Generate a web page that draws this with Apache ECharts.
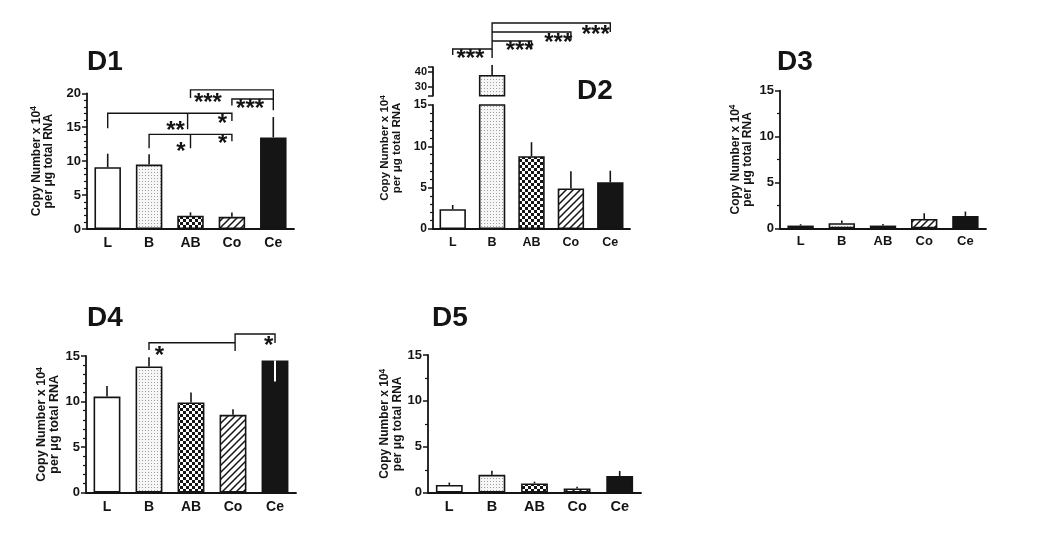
<!DOCTYPE html>
<html><head><meta charset="utf-8">
<script src="https://cdn.jsdelivr.net/npm/echarts@6/dist/echarts.min.js"></script>
<style>html,body{margin:0;padding:0;background:#fff}#c{width:1050px;height:541px}</style>
</head><body><div id="c"></div>
<script>
// ---------------- data ----------------
const categories = ['L', 'B', 'AB', 'Co', 'Ce'];

const d1Values = [9.1, 9.5, 1.95, 1.8, 13.5];
const d1ErrTop = [11.1, 11.0, 2.45, 2.45, 16.5];
const d1Ticks = [0, 5, 10, 15, 20];

const d2Values = [2.4, 37.8, 8.8, 4.9, 5.65];
const d2ErrTop = [2.9, 44.4, 10.5, 7.0, 7.05];
const d2TicksLower = [0, 5, 10, 15];
const d2TicksUpper = [30, 40];

const d3Values = [0.3, 0.55, 0.3, 1.02, 1.35];
const d3ErrTop = [0.45, 0.85, 0.47, 1.63, 1.82];
const d3Ticks = [0, 5, 10, 15];

const d4Values = [10.55, 13.85, 9.9, 8.55, 14.5];
const d4ErrTop = [11.7, 14.85, 11.0, 9.15, 12.2];
const d4Ticks = [0, 5, 10, 15];

const d5Values = [0.85, 1.95, 1.0, 0.47, 1.82];
const d5ErrTop = [1.1, 2.4, 1.2, 0.65, 2.36];
const d5Ticks = [0, 5, 10, 15];

// significance brackets: polylines in [category index, value]
const d1Brackets = [
  [[2, 19.3], [2, 20.5], [4, 20.5], [4, 17.5]],
  [[3, 18.2], [3, 19.15], [4, 19.15]],
  [[0, 14.85], [0, 17.05], [3, 17.05], [3, 15.9]],
  [[1.93, 17.05], [1.93, 14.7]],
  [[1, 11.9], [1, 13.95], [3, 13.95], [3, 12.95]],
  [[2, 13.95], [2, 11.9]]
];
const d1Stars = [[2.42, 19.3, '***'], [3.44, 18.35, '***'], [2.77, 16.2, '*'], [1.64, 15.1, '**'], [2.78, 13.26, '*'], [1.77, 12.0, '*']];

// D2 brackets in upper (broken) axis values
const d2Brackets = [
  [[1, 49.1], [1, 72.5], [4, 72.5], [4, 66.5]],
  [[1, 66.5], [3, 66.5], [3, 61.1]],
  [[1, 60.5], [2, 60.5], [2, 55.8]],
  [[0, 51.1], [0, 55.1], [1, 55.1]]
];
const d2Stars = [[3.63, 67.8, '***'], [2.68, 62.1, '***'], [1.7, 56.6, '***'], [0.45, 51.5, '***']];

const d4Brackets = [
  [[1, 15.66], [1, 16.46], [3.05, 16.46]],
  [[3.05, 15.55], [3.05, 17.42], [4, 17.42], [4, 16.43]]
];
const d4Stars = [[1.25, 15.5, '*'], [3.85, 16.6, '*']];

const titles = ['D1', 'D2', 'D3', 'D4', 'D5'];

// ---------------- style ----------------
const FONT = '"Liberation Sans", Arial, Helvetica, sans-serif';
const INK = '#141414';

function makeTile(kind) {
  const c = document.createElement('canvas');
  const g = c.getContext('2d');
  if (kind === 'dots') {
    c.width = c.height = 3;
    g.fillStyle = '#f6f6f6'; g.fillRect(0, 0, 3, 3);
    g.fillStyle = '#a0a0a0'; g.fillRect(1, 1, 1, 1);
  } else if (kind === 'checker') {
    c.width = c.height = 6;
    g.fillStyle = '#ffffff'; g.fillRect(0, 0, 6, 6);
    g.fillStyle = '#151515'; g.fillRect(0, 0, 3, 3); g.fillRect(3, 3, 3, 3);
  } else {
    const s = 7;
    c.width = c.height = s;
    g.fillStyle = '#ffffff'; g.fillRect(0, 0, s, s);
    g.strokeStyle = '#151515'; g.lineWidth = 1.5;
    g.beginPath();
    g.moveTo(-1, s + 1); g.lineTo(s + 1, -1);
    g.moveTo(-2, 2); g.lineTo(2, -2);
    g.moveTo(s - 2, s + 2); g.lineTo(s + 2, s - 2);
    g.stroke();
  }
  return { image: c, repeat: 'repeat' };
}
const barFills = ['#ffffff', makeTile('dots'), makeTile('checker'), makeTile('hatch'), '#151515'];

const NAME = '{a|Copy Number x 10}{s|4}\n{a|per \u03bcg total RNA}';
function nameStyle(fs) {
  return {
    fontFamily: FONT, fontWeight: 'bold', fontSize: fs, color: INK, lineHeight: fs + 0.5,
    rich: {
      a: { fontFamily: FONT, fontWeight: 'bold', fontSize: fs, color: INK, lineHeight: fs + 0.5 },
      s: { fontFamily: FONT, fontWeight: 'bold', fontSize: fs * 0.7, color: INK, lineHeight: 4, verticalAlign: 'top' }
    }
  };
}

const grids = [], xAxes = [], yAxes = [], series = [];

function addGrid(rect) {
  grids.push(Object.assign({ containLabel: false, outerBoundsMode: 'none' }, rect));
  return grids.length - 1;
}
function addXAxis(gi, catFont, show) {
  xAxes.push({
    type: 'category', gridIndex: gi, data: categories, show: show,
    axisLine: { show: true, lineStyle: { color: INK, width: 1.8 } },
    axisTick: { show: false },
    axisLabel: { fontSize: catFont, fontWeight: 'bold', color: INK, fontFamily: FONT, margin: 7 },
    splitLine: { show: false }
  });
}
function addYAxis(gi, ticks, minorSplit, tickFont, opts) {
  const min = ticks[0], max = ticks[ticks.length - 1];
  const ax = {
    type: 'value', gridIndex: gi, min: min, max: max, interval: ticks[1] - ticks[0],
    axisLine: { show: true, lineStyle: { color: INK, width: 1.8 } },
    axisTick: { show: true, inside: false, length: 5, lineStyle: { color: INK, width: 1.5 } },
    minorTick: { show: !!minorSplit, splitNumber: minorSplit || 5, length: 3, lineStyle: { color: INK, width: 1.2 } },
    splitLine: { show: false }, minorSplitLine: { show: false },
    axisLabel: { fontSize: tickFont, fontWeight: 'bold', color: INK, fontFamily: FONT, margin: 6 }
  };
  Object.assign(ax, opts || {});
  yAxes.push(ax);
}

function pt(api, x, y) {
  const base = Math.round(x);
  const p = api.coord([base, y]);
  const bw = api.size([1, 0])[0];
  return [p[0] + (x - base) * bw, p[1]];
}

function barSeries(gi, values, bw) {
  series.push({
    type: 'bar', xAxisIndex: gi, yAxisIndex: gi, barWidth: bw, clip: true, silent: true, z: 2,
    itemStyle: { borderColor: INK, borderWidth: 1.6 },
    data: values.map((v, i) => ({ value: v, itemStyle: { color: barFills[i] } }))
  });
}
function errSeries(gi, values, tops) {
  series.push({
    type: 'custom', xAxisIndex: gi, yAxisIndex: gi, silent: true, z: 4, clip: false,
    data: values.map((v, i) => [i, v, tops[i]]),
    renderItem(params, api) {
      const cs = params.coordSys;
      const p0 = api.coord([api.value(0), api.value(1)]);
      const p1 = api.coord([api.value(0), api.value(2)]);
      if (p0[1] < cs.y - 1 || p0[1] > cs.y + cs.height + 1) return null;
      const down = api.value(2) < api.value(1);
      return { type: 'line', shape: { x1: p0[0], y1: p0[1], x2: p1[0], y2: p1[1] },
        style: { stroke: down ? '#ffffff' : INK, lineWidth: down ? 2 : 1.6 } };
    }
  });
}
function bracketSeries(gi, brackets, stars) {
  series.push({
    type: 'custom', xAxisIndex: gi, yAxisIndex: gi, silent: true, z: 5, clip: false,
    data: brackets.map((b, i) => [i]),
    renderItem(params, api) {
      const pts = brackets[params.dataIndex].map(p => pt(api, p[0], p[1]));
      return { type: 'polyline', shape: { points: pts }, style: { stroke: INK, lineWidth: 1.4, fill: null } };
    }
  });
  series.push({
    type: 'custom', xAxisIndex: gi, yAxisIndex: gi, silent: true, z: 5, clip: false,
    data: stars.map((s, i) => [i]),
    renderItem(params, api) {
      const s = stars[params.dataIndex];
      const p = pt(api, s[0], s[1]);
      return { type: 'text', x: p[0], y: p[1] + 5,
        style: { text: s[2], fill: INK, font: 'bold 24px ' + FONT, align: 'center', verticalAlign: 'middle' } };
    }
  });
}

// ---------------- D1 ----------------
let g = addGrid({ left: 87, top: 93.3, width: 207, height: 135.7 });
addXAxis(g, 14, true);
addYAxis(g, d1Ticks, 5, 13, { name: NAME, nameLocation: 'middle', nameGap: 32, nameRotate: 90, nameTextStyle: nameStyle(12) });
barSeries(g, d1Values, '64%');
errSeries(g, d1Values, d1ErrTop);
bracketSeries(g, d1Brackets, d1Stars);

// ---------------- D2 (broken axis) ----------------
g = addGrid({ left: 433, top: 105, width: 197, height: 124 });
addXAxis(g, 12.5, true);
addYAxis(g, d2TicksLower, 5, 12);
barSeries(g, d2Values, '67%');
errSeries(g, d2Values, d2ErrTop);
const gLower = g;

g = addGrid({ left: 433, top: 67.2, width: 197, height: 28.5 });
addXAxis(g, 12, false);
addYAxis(g, [24, 43], 0, 11, {
  interval: null,
  axisTick: { show: true, length: 5, customValues: [24, d2TicksUpper[0], d2TicksUpper[1], 43], lineStyle: { color: INK, width: 1.5 } },
  axisLabel: { fontSize: 11, fontWeight: 'bold', color: INK, fontFamily: FONT, margin: 6, customValues: d2TicksUpper }
});
barSeries(g, d2Values, '67%');
errSeries(g, d2Values, d2ErrTop);
bracketSeries(g, d2Brackets, d2Stars);

g = addGrid({ left: 433, top: 67, width: 197, height: 162 });
addXAxis(g, 12, false);
yAxes.push({
  type: 'value', gridIndex: g, min: 0, max: 1,
  axisLine: { show: false }, axisTick: { show: false }, axisLabel: { show: false }, splitLine: { show: false },
  name: NAME, nameLocation: 'middle', nameGap: 30, nameRotate: 90, nameTextStyle: nameStyle(11.5)
});

// ---------------- D3 ----------------
g = addGrid({ left: 780, top: 90.7, width: 206, height: 137.6 });
addXAxis(g, 13, true);
addYAxis(g, d3Ticks, 2, 13, { name: NAME, nameLocation: 'middle', nameGap: 26, nameRotate: 90, nameTextStyle: nameStyle(12) });
barSeries(g, d3Values, '64%');
errSeries(g, d3Values, d3ErrTop);

// ---------------- D4 ----------------
g = addGrid({ left: 86, top: 356, width: 210, height: 136.7 });
addXAxis(g, 14, true);
addYAxis(g, d4Ticks, 5, 13, { name: NAME, nameLocation: 'middle', nameGap: 25, nameRotate: 90, nameTextStyle: nameStyle(12.5) });
barSeries(g, d4Values, '64%');
errSeries(g, d4Values, d4ErrTop);
bracketSeries(g, d4Brackets, d4Stars);

// ---------------- D5 ----------------
g = addGrid({ left: 428, top: 355, width: 213, height: 137.7 });
addXAxis(g, 14.5, true);
addYAxis(g, d5Ticks, 2, 13, { name: NAME, nameLocation: 'middle', nameGap: 19, nameRotate: 90, nameTextStyle: nameStyle(12) });
barSeries(g, d5Values, '63%');
errSeries(g, d5Values, d5ErrTop);

// titles
const titlePos = [[87, 62.5], [577, 91.5], [777, 62.5], [87, 318], [432, 318]];
const graphic = titles.map((t, i) => ({
  type: 'text', x: titlePos[i][0], y: titlePos[i][1], silent: true,
  style: { text: t, fill: INK, font: 'bold 28px ' + FONT, align: 'left', verticalAlign: 'middle' }
}));

const chart = echarts.init(document.getElementById('c'), null, { renderer: 'canvas' });
chart.setOption({
  animation: false,
  backgroundColor: '#ffffff',
  grid: grids, xAxis: xAxes, yAxis: yAxes, series: series, graphic: graphic
});
</script></body></html>
